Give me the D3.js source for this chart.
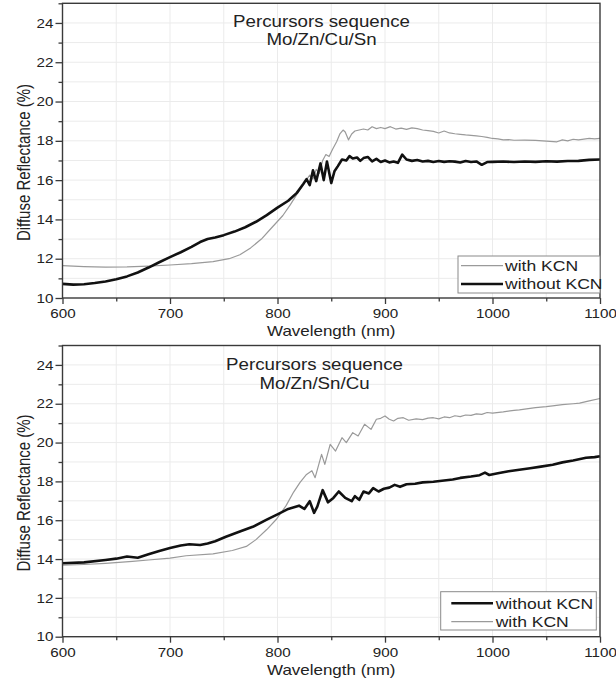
<!DOCTYPE html>
<html><head><meta charset="utf-8">
<script src="https://cdn.jsdelivr.net/npm/d3@7"></script>
<style>
body{margin:0;background:#fff}
svg{display:block}
text{font-family:"Liberation Sans",Arial,Helvetica,sans-serif;fill:#222}
</style>
</head><body><svg id="c" width="616" height="684"></svg>
<script>
// ---------- data ----------
const xTickValues = [600, 700, 800, 900, 1000, 1100];
const xMinorValues = [650, 750, 850, 950, 1050];
const yTickValues = [10, 12, 14, 16, 18, 20, 22, 24];
const yMinorValues = [11, 13, 15, 17, 19, 21, 23, 25];

const seriesNames = ["with KCN", "without KCN"];
const titleTop = ["Percursors sequence", "Mo/Zn/Cu/Sn"];
const titleBottom = ["Percursors sequence", "Mo/Zn/Sn/Cu"];

// Top panel — Mo/Zn/Cu/Sn
const topWithoutWl = [600,610,620,630,640,650,660,670,680,690,700,710,720,728,735,742,750,760,770,780,790,800,810,818,824,827,830,833,836,840,843,846,850,853,856,860,864,867,870,874,877,880,884,888,892,896,900,904,908,912,916,920,925,930,935,940,945,950,955,960,965,970,975,980,985,990,995,1000,1010,1020,1030,1040,1050,1060,1070,1080,1090,1100];
const topWithout = [10.72,10.68,10.70,10.76,10.84,10.95,11.10,11.30,11.55,11.82,12.08,12.33,12.60,12.85,13.00,13.08,13.20,13.38,13.60,13.88,14.22,14.60,14.95,15.35,15.80,16.05,15.75,16.50,15.95,16.85,16.00,16.95,15.85,16.45,16.70,17.05,17.00,17.22,17.10,17.15,16.98,17.12,17.18,16.95,17.08,16.92,17.00,16.90,16.95,16.88,17.30,17.05,16.98,17.02,16.95,16.98,16.92,16.97,16.93,16.96,16.94,16.90,16.97,16.92,16.95,16.78,16.92,16.93,16.95,16.92,16.95,16.93,16.96,16.94,16.97,16.98,17.03,17.05];

const topWithWl = [600,620,640,660,680,700,720,740,755,765,775,785,795,805,812,820,826,830,833,836,839,842,845,848,851,855,858,861,863,866,869,872,876,880,884,888,892,896,900,905,910,915,920,925,930,935,940,945,950,955,960,965,970,975,980,985,990,995,1000,1005,1010,1015,1020,1030,1040,1050,1060,1065,1070,1075,1080,1090,1095,1100];
const topWith = [11.65,11.60,11.57,11.58,11.62,11.68,11.75,11.85,12.00,12.20,12.55,13.00,13.60,14.20,14.75,15.45,15.95,16.25,16.05,16.55,16.35,17.00,17.30,17.20,17.55,17.95,18.35,18.55,18.45,18.05,18.35,18.50,18.55,18.60,18.55,18.72,18.62,18.68,18.62,18.72,18.60,18.65,18.58,18.66,18.62,18.55,18.52,18.48,18.40,18.50,18.40,18.36,18.33,18.30,18.28,18.25,18.22,18.18,18.12,18.10,18.05,18.06,18.03,18.04,18.02,17.98,17.95,18.05,18.00,18.08,18.05,18.12,18.10,18.12];

// Bottom panel — Mo/Zn/Sn/Cu
const botWithoutWl = [600,620,640,650,660,670,680,690,700,710,718,728,735,742,752,765,777,790,800,810,820,825,830,834,837,842,847,852,857,863,869,872,876,880,885,889,894,899,904,909,914,920,928,935,945,955,963,970,980,988,993,997,1005,1015,1025,1035,1045,1056,1065,1075,1087,1095,1100];
const botWithout = [13.78,13.83,13.95,14.02,14.13,14.07,14.25,14.42,14.57,14.70,14.76,14.72,14.80,14.92,15.15,15.42,15.66,16.03,16.30,16.58,16.75,16.58,16.98,16.38,16.70,17.55,16.92,17.15,17.48,17.15,16.98,17.24,17.05,17.48,17.38,17.65,17.48,17.62,17.68,17.82,17.72,17.85,17.88,17.95,17.98,18.05,18.10,18.18,18.25,18.32,18.45,18.33,18.42,18.52,18.60,18.68,18.76,18.86,18.98,19.08,19.22,19.25,19.30];

const botWithWl = [600,620,640,665,680,700,715,740,758,771,780,790,799,808,815,821,827,832,835,841,844,849,854,860,864,870,875,881,887,892,896,900,904,908,912,917,922,929,935,940,945,950,955,960,965,970,975,980,985,990,995,1000,1010,1020,1025,1030,1040,1050,1056,1065,1075,1081,1090,1100];
const botWith = [13.68,13.72,13.78,13.88,13.95,14.05,14.17,14.27,14.44,14.65,15.00,15.52,16.05,16.75,17.45,17.95,18.36,18.55,18.19,19.39,18.88,19.91,19.56,20.25,20.00,20.51,20.34,20.94,20.68,21.20,21.25,21.37,21.20,21.11,21.25,21.28,21.15,21.22,21.18,21.26,21.28,21.22,21.32,21.28,21.38,21.34,21.42,21.40,21.48,21.45,21.55,21.52,21.58,21.66,21.68,21.72,21.80,21.85,21.89,21.95,22.00,22.03,22.15,22.27];

// ---------- drawing ----------
const SX = 1.17; // horizontal stretch of the original artwork's lettering
const svg = d3.select("#c");
const styles = {
  "with KCN": {stroke: "#9a9a9a", width: 1.2},
  "without KCN": {stroke: "#111", width: 2.6}
};

function stretchedText(g, x, y, str, size, anchor) {
  return g.append("text")
    .attr("transform", `translate(${x},${y}) scale(${SX},1)`)
    .attr("text-anchor", anchor || "middle")
    .style("font-size", size + "px")
    .text(str);
}

function panel(cfg) {
  const g = svg.append("g");
  const x = d3.scaleLinear().domain([600, 1100]).range([cfg.left, cfg.right]);
  const y = d3.scaleLinear().domain([10, 25]).range([cfg.bottom, cfg.top]);

  // grid
  const grid = g.append("g").attr("stroke", "#ebebeb").attr("stroke-width", 1);
  grid.selectAll("line.v").data(d3.range(650, 1100, 50)).join("line")
    .attr("x1", d => x(d)).attr("x2", d => x(d)).attr("y1", cfg.top).attr("y2", cfg.bottom);
  grid.selectAll("line.h").data(d3.range(11, 25, 1)).join("line")
    .attr("y1", d => y(d)).attr("y2", d => y(d)).attr("x1", cfg.left).attr("x2", cfg.right);

  // series
  const line = d3.line().x(d => x(d[0])).y(d => y(d[1]));
  cfg.series.forEach(s => {
    const pts = s.wl.map((w, i) => [w, s.v[i]]);
    g.append("path").datum(pts).attr("d", line)
      .attr("fill", "none").attr("stroke", styles[s.name].stroke)
      .attr("stroke-width", styles[s.name].width).attr("stroke-linejoin", "round");
  });

  // frame
  g.append("rect").attr("x", cfg.left).attr("y", cfg.top)
    .attr("width", cfg.right - cfg.left).attr("height", cfg.bottom - cfg.top)
    .attr("fill", "none").attr("stroke", "#3a3a3a").attr("stroke-width", 1.4);

  // axes
  const xa = g.append("g").attr("transform", `translate(0,${cfg.bottom})`)
    .call(d3.axisBottom(x).tickValues(xTickValues).tickSize(6).tickPadding(5).tickFormat(d3.format("d")));
  g.append("g").attr("transform", `translate(0,${cfg.bottom})`)
    .call(d3.axisBottom(x).tickValues(xMinorValues).tickSize(3.5).tickFormat(""));
  const ya = g.append("g").attr("transform", `translate(${cfg.left},0)`)
    .call(d3.axisLeft(y).tickValues(yTickValues).tickSize(7).tickPadding(2).tickFormat(d3.format("d")));
  g.append("g").attr("transform", `translate(${cfg.left},0)`)
    .call(d3.axisLeft(y).tickValues(yMinorValues).tickSize(4).tickFormat(""));
  g.selectAll(".domain").remove();
  g.selectAll(".tick line").attr("stroke", "#3a3a3a").attr("stroke-width", 1.3);
  xa.selectAll("text").style("font-size", "13px").attr("fill", "#222")
    .attr("transform", `scale(${SX},1)`).attr("font-family", null);
  ya.selectAll("text").style("font-size", "13px").attr("fill", "#222")
    .attr("x", -9 / SX).attr("transform", `scale(${SX},1)`);

  // axis titles
  stretchedText(g, (cfg.left + cfg.right) / 2, cfg.bottom + 38, "Wavelength (nm)", 14.5);
  g.append("text")
    .attr("transform", `translate(29.6,${cfg.ylabY}) scale(${SX},1) rotate(-90)`)
    .attr("text-anchor", "middle").style("font-size", "15px")
    .text("Diffuse Reflectance (%)");

  // title
  stretchedText(g, cfg.titleX, cfg.titleY[0], cfg.title[0], 16);
  stretchedText(g, cfg.titleX, cfg.titleY[1], cfg.title[1], 16);

  // legend
  const L = cfg.legend;
  g.append("rect").attr("x", L.x0).attr("y", L.y0).attr("width", L.x1 - L.x0).attr("height", L.y1 - L.y0)
    .attr("fill", "#fff").attr("stroke", "#8a8a8a").attr("stroke-width", 1);
  L.order.forEach((name, i) => {
    const yy = L.rows[i];
    g.append("line").attr("x1", L.lx0).attr("x2", L.lx1).attr("y1", yy).attr("y2", yy)
      .attr("stroke", styles[name].stroke).attr("stroke-width", styles[name].width);
    stretchedText(g, L.tx, yy + 5.3, name, 15, "start");
  });
}

panel({
  left: 62.5, right: 600, top: 3.3, bottom: 298,
  title: titleTop, titleX: 321.5, titleY: [26.7, 44.5], ylabY: 162.5,
  series: [
    {name: seriesNames[0], wl: topWithWl, v: topWith},
    {name: seriesNames[1], wl: topWithoutWl, v: topWithout}
  ],
  legend: {x0: 458, x1: 600, y0: 256, y1: 293, lx0: 461, lx1: 503, tx: 505,
           rows: [265.7, 284], order: [seriesNames[0], seriesNames[1]]}
});

panel({
  left: 62.5, right: 600, top: 345.5, bottom: 636.7,
  title: titleBottom, titleX: 314.5, titleY: [370, 389], ylabY: 493,
  series: [
    {name: seriesNames[0], wl: botWithWl, v: botWith},
    {name: seriesNames[1], wl: botWithoutWl, v: botWithout}
  ],
  legend: {x0: 440.7, x1: 596.3, y0: 591.7, y1: 630, lx0: 451.3, lx1: 493, tx: 495.7,
           rows: [603.3, 621.7], order: [seriesNames[1], seriesNames[0]]}
});
</script></body></html>
